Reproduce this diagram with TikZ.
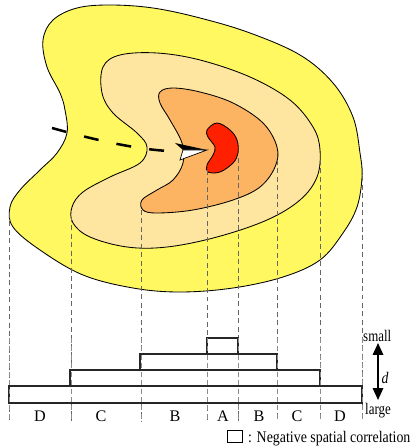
\documentclass[tikz,border=0pt]{standalone}
\usepackage{fontspec}
\setmainfont{Liberation Serif}
\usetikzlibrary{arrows.meta}
\definecolor{cyel}{RGB}{255,248,96}
\definecolor{ctan}{RGB}{255,230,160}
\definecolor{corg}{RGB}{252,180,98}
\definecolor{cred}{RGB}{255,32,0}
\tikzset{
  region/.style={draw=black, line width=0.6pt},
  proj/.style={draw=black!60, line width=0.4pt, dash pattern=on 3.5pt off 2.5pt},
  bar/.style={draw=black!85, line width=0.9pt, fill=white},
  lab/.style={font=\fontsize{11.5}{13}\selectfont, inner sep=0pt},
}
\begin{document}
\begin{tikzpicture}[x=0.25mm, y=-0.25mm]
\useasboundingbox (0,0) rectangle (414,447);
% outer yellow
\path[region, fill=cyel] plot[smooth cycle, tension=0.6] coordinates {
 (67,133) (65,110) (60,93) (47,67) (43,40) (53,20) (77,8) (110,5) (153,8) (200,18)
 (250,33) (300,55) (333,83) (353,117) (360,153) (362,177) (357,207) (343,233)
 (320,260) (283,277) (233,288) (180,292) (133,288) (83,275) (40,250) (13,227)
 (10,207) (20,190) (40,170) (57,153)};
% tan
\path[region, fill=ctan] plot[smooth cycle, tension=0.6] coordinates {
 (103,67) (120,55) (157,53) (200,60) (250,77) (290,100) (313,127) (320,150)
 (317,177) (300,200) (267,220) (217,237) (167,247) (127,247) (90,237) (73,223)
 (72,207) (83,192) (110,177) (140,163) (147,147) (137,133) (113,113) (102,93)};
% orange
\path[region, fill=corg] plot[smooth cycle, tension=0.6] coordinates {
 (160,92) (173,88) (200,92) (233,103) (263,123) (277,147) (275,167) (260,187)
 (233,200) (193,210) (157,213) (143,210) (142,200) (157,190) (173,180) (183,163)
 (182,143) (170,120) (160,103)};
% red
\path[region, fill=cred] plot[smooth cycle, tension=0.6] coordinates {
 (207,130) (217,123) (230,130) (237,140) (238,153) (233,163) (220,172) (208,172)
 (207,165) (213,155) (215,147) (208,137)};
% dashed track
\coordinate (t0) at (52,128);
\coordinate (t1) at (168,151);
\draw[line width=1.8pt, dash pattern=on 10.6pt off 13pt] (t0) .. controls (95,140) and (135,149) .. (t1);
% arrowhead
\coordinate (tip) at (207,150);
\coordinate (bt) at (175,143);
\coordinate (nt) at (183,150);
\coordinate (bb) at (180,160);
\fill[black] (bt) -- (tip) -- (nt) -- cycle;
\draw[fill=white, line width=0.5pt, line join=miter] (nt) -- (tip) -- (bb) -- cycle;
% projection lines
\draw[proj] (9,213) -- (9,421);
\draw[proj] (362,168) -- (362,421);
\draw[proj] (71,217) -- (71,421);
\draw[proj] (320,160) -- (320,421);
\draw[proj] (141,210) -- (141,421);
\draw[proj] (277,160) -- (277,421);
\draw[proj] (207,170) -- (207,421);
\draw[proj] (238,158) -- (238,421);
% bars
\draw[bar] (9,386) rectangle (362,403);
\draw[bar] (70,370) rectangle (320,386);
\draw[bar] (140,354) rectangle (277,370);
\draw[bar] (207,338) rectangle (238,354);
% redraw dashed over bars
\foreach \xx in {9,71,141,207,238,277,320,362} {
  \draw[proj, draw=black!45] (\xx,338) -- (\xx,421);
}
% letters
\node[lab, anchor=base] (d1) at (40,421) {D};
\node[lab, anchor=base] (c1) at (101,421) {C};
\node[lab, anchor=base] (b1) at (175,421) {B};
\node[lab, anchor=base] (a) at (223,421) {A};
\node[lab, anchor=base] (b2) at (259,421) {B};
\node[lab, anchor=base] (c2) at (297,421) {C};
\node[lab, anchor=base] (d2) at (340,421) {D};
% scale arrow
\node[lab, anchor=base west, xscale=0.8] (small) at (363,341) {small};
\node[lab, anchor=base west, xscale=0.8] (large) at (365,414) {large};
\coordinate (ua) at (378,343);
\coordinate (la) at (378,400);
\draw[line width=1pt, {Triangle[length=8.5pt,width=7.5pt]}-{Triangle[length=8.5pt,width=7.5pt]}] (ua) -- (la);
\node[lab, font=\fontsize{11.5}{13}\selectfont\itshape, xscale=0.85] (dd) at (385,378) {d};
% legend
\node[draw, line width=0.6pt, inner sep=0pt, minimum width=10.6pt, minimum height=8.5pt] (lbox) at (234.5,436) {};
\node[lab, anchor=base west, xscale=0.86] (ltext) at (248,442) {: Negative spatial correlation};
\end{tikzpicture}
\end{document}
